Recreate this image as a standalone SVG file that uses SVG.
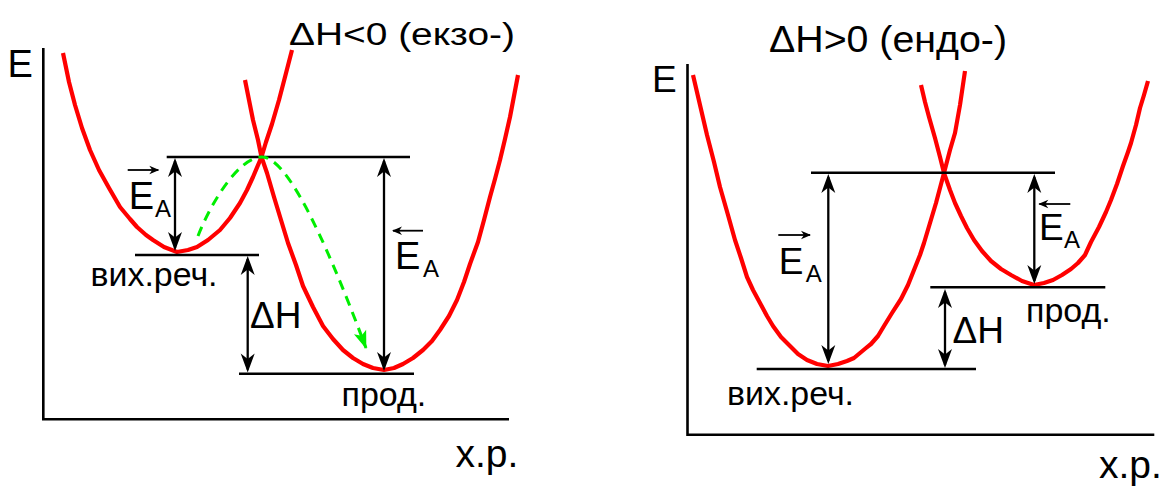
<svg xmlns="http://www.w3.org/2000/svg" width="1162" height="486" viewBox="0 0 1162 486">
<style>
.ax{fill:none;stroke:#000;stroke-width:2.6}
.lvl{fill:none;stroke:#000;stroke-width:2.6}
.crv{fill:none;stroke:#ff0000;stroke-width:4.2;stroke-linejoin:round;stroke-linecap:butt}
.dbl{fill:none;stroke:#000;stroke-width:2.3;marker-start:url(#ah);marker-end:url(#ah)}
.ovr{fill:none;stroke:#000;stroke-width:1.8;marker-end:url(#sah)}
.grn{fill:none;stroke:#00ee00;stroke-width:3;stroke-dasharray:10 7}
text{font-family:"Liberation Sans",Arial,sans-serif;fill:#000}
.big{font-size:38px}
.sub{font-size:24px}
.lab{font-size:34px}
</style>
<defs>
<marker id="ah" viewBox="-17 -8 21 16" refX="0" refY="0" markerWidth="21" markerHeight="16" markerUnits="userSpaceOnUse" orient="auto-start-reverse">
<path d="M3,0 L-16,-7 L-10.5,0 L-16,7 Z" fill="#000"/>
</marker>
<marker id="sah" viewBox="-10 -5 12 10" refX="0" refY="0" markerWidth="12" markerHeight="10" markerUnits="userSpaceOnUse" orient="auto">
<path d="M1,0 L-9,-4.2 L-6,0 L-9,4.2 Z" fill="#000"/>
</marker>
<marker id="gah" viewBox="-18 -8 20 16" refX="0" refY="0" markerWidth="20" markerHeight="16" markerUnits="userSpaceOnUse" orient="auto">
<path d="M1,0 L-17,-6.5 L-13,0 L-17,6.5 Z" fill="#00ee00"/>
</marker>
</defs>

<g id="axes">
<path class="ax" d="M43.3,48 V419.3 H509"/>
<path class="ax" d="M687.5,64 V434.7 H1154.3"/>
</g>

<g id="curves">
<path id="exo-reactant" class="crv" d="M63,53 L69,82 L75,105 L82,128 L90,150 L99,170 L109,188 L120,207 L130,219 L137,227 L146,235 L153,240 L164,247 L177,252 L188,250 L197,247 L208,240 L220,230 L230,218 L240,203 L247,190 L253,177 L261.5,157 L266,142 L272,124 L279,100 L285,77 L292,50"/>
<path id="exo-product" class="crv" d="M245,80 L249,100 L253,120 L258,140 L261.5,157 L267,173 L274,197 L281,220 L288,243 L296,265 L303,286 L313,307 L323,326 L333,339 L343,350 L353,358 L363,364 L373,368 L384,370 L394,368 L403,364 L413,358 L423,350 L432,341 L440,330 L449,316 L457,300 L464,282 L470,264 L478,242 L484,220 L490,197 L495,179 L500,160 L505,139 L510,117 L514,96 L518,75"/>
<path id="endo-reactant" class="crv" d="M693,75 L700,105 L707,135 L714,162 L720,187 L728,215 L735,240 L741,258 L747,277 L753,290 L760,303 L767,316 L773,326 L781,337 L790,346 L798,354 L807,360 L817,364 L828,366 L838,364 L847,361 L854,358 L860,353 L866,348 L871,344 L878,336 L884,326 L892,313 L901,299 L908,285 L914,270 L920,255 L924,243 L930,223 L936,203 L944,173 L950,150 L955,133 L960,105 L965,71"/>
<path id="endo-product" class="crv" d="M921,85 L925,102 L929,117 L935,138 L940,157 L944,173 L950,190 L955,203 L961,216 L967,228 L974,240 L982,251 L991,261 L1001,269 L1011,275 L1022,281 L1034,285 L1044,283 L1053,280 L1062,275 L1071,269 L1078,263 L1085,255 L1091,242 L1099,227 L1106,212 L1111,200 L1117,184 L1123,166 L1128,152 L1131,143 L1136,125 L1140,108 L1144,95 L1148,81"/>
</g>

<g id="levels">
<path class="lvl" d="M166.7,157 H410"/>
<path class="lvl" d="M135,255 H259"/>
<path class="lvl" d="M239,373.7 H414"/>
<path class="lvl" d="M811,172.7 H1055"/>
<path class="lvl" d="M756.7,369 H976"/>
<path class="lvl" d="M930.3,287.3 H1105.3"/>
</g>

<g id="connectors">
<path class="dbl" d="M175,161 V248"/>
<path class="dbl" d="M247.7,259 V369.5"/>
<path class="dbl" d="M384,161 V368"/>
<path class="dbl" d="M828.3,177 V361"/>
<path class="dbl" d="M945,292 V365"/>
<path class="dbl" d="M1034.3,177 V281"/>
<path class="grn" marker-end="url(#gah)" d="M198,236 C210,205 238,157 262,157 C285,157 320,225 366,348"/>
</g>

<g id="exo-title"><text x="289" y="45" font-size="31" textLength="226" lengthAdjust="spacingAndGlyphs">ΔH&lt;0 (екзо-)</text></g>
<g id="exo-axis-labels">
<text class="big" x="7.6" y="77">E</text>
<text x="455.5" y="467" font-size="39">х.р.</text>
</g>
<g id="exo-ea-forward">
<path class="ovr" d="M127.7,170 H158.3"/>
<text class="big" x="128.7" y="209.3">E</text><text class="sub" x="155" y="216.7">A</text>
</g>
<g id="exo-ea-reverse">
<path class="ovr" d="M423,230.7 H393"/>
<text class="big" x="395" y="268.5">E</text><text class="sub" x="423" y="277">A</text>
</g>
<g id="exo-dh"><text x="250" y="328.3" font-size="37">ΔH</text></g>
<g id="exo-reactants"><text class="lab" x="90.5" y="286.3" textLength="127" lengthAdjust="spacingAndGlyphs">вих.реч.</text></g>
<g id="exo-products"><text class="lab" x="341.5" y="406.3">прод.</text></g>

<g id="endo-title"><text x="769" y="52" font-size="37" textLength="238" lengthAdjust="spacingAndGlyphs">ΔH&gt;0 (ендо-)</text></g>
<g id="endo-axis-labels">
<text x="652" y="91.7" font-size="37">E</text>
<text x="1099" y="478" font-size="39">х.р.</text>
</g>
<g id="endo-ea-forward">
<path class="ovr" d="M778.3,235 H810"/>
<text x="778.8" y="273.7" font-size="37">E</text><text class="sub" x="805.7" y="282.3">A</text>
</g>
<g id="endo-ea-reverse">
<path class="ovr" d="M1070.3,204 H1039.3"/>
<text x="1039" y="240" font-size="37">E</text><text class="sub" x="1064" y="248.3">A</text>
</g>
<g id="endo-dh"><text x="952.5" y="343" font-size="37">ΔH</text></g>
<g id="endo-reactants"><text class="lab" x="727" y="404.7" textLength="127" lengthAdjust="spacingAndGlyphs">вих.реч.</text></g>
<g id="endo-products"><text class="lab" x="1026" y="322">прод.</text></g>
</svg>
